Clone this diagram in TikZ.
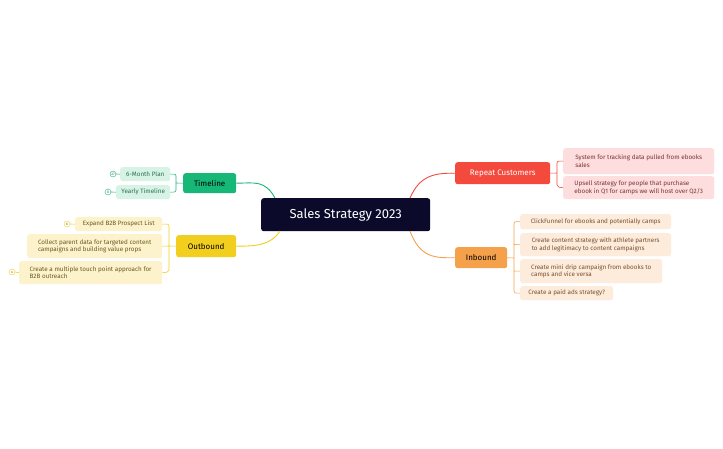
\documentclass[tikz,border=0pt]{standalone}
\usepackage{fontspec}
\setmainfont{Fira Sans}
\begin{document}
\begin{tikzpicture}[x=1pt,y=-1pt,
 base/.style={rounded corners=2.5pt,anchor=north west,inner sep=0pt,inner xsep=3pt,align=left,font=\fontsize{6.3}{7.4}\selectfont},
 tl/.style={base,fill=green!12!white,fill=ltgreen,text=dkgreen},
 ob/.style={base,fill=ltyellow,text=dkyellow},
 rc/.style={base,fill=ltred,text=dkred},
 ib/.style={base,fill=ltorange,text=dkorange},
 main/.style={rounded corners=2.5pt,anchor=north west,inner sep=0pt,align=center,font=\fontsize{8}{9}\selectfont},
 badge/.style={circle,draw,inner sep=0pt,minimum size=6pt,font=\fontsize{3.5}{4}\selectfont},
 con/.style={line width=0.9pt},
 br/.style={line width=0.6pt,rounded corners=2pt}]
\definecolor{navy}{HTML}{0B0A2A}
\definecolor{grn}{HTML}{17B877}\definecolor{ltgreen}{HTML}{D6F3E6}\definecolor{dkgreen}{HTML}{2E6E55}
\definecolor{yel}{HTML}{F2CF1F}\definecolor{ltyellow}{HTML}{FCF2CC}\definecolor{dkyellow}{HTML}{6B5A1E}
\definecolor{red1}{HTML}{F44A3E}\definecolor{ltred}{HTML}{FDDDDD}\definecolor{dkred}{HTML}{7A3535}
\definecolor{org}{HTML}{F5A04A}\definecolor{ltorange}{HTML}{FDEBDB}\definecolor{dkorange}{HTML}{7A5030}
\useasboundingbox[fill=white] (0,0) rectangle (723,448);
% central
\node[main,fill=navy,text=white,minimum width=169pt,minimum height=33pt,font=\fontsize{13}{15}\selectfont] (c) at (261,198) {Sales Strategy 2023};
% branches
\node[main,fill=grn,text=black,minimum width=53pt,minimum height=20pt] (tl) at (183,173) {Timeline};
\node[main,fill=yel,text=black,minimum width=60pt,minimum height=22pt] (ob) at (176,235) {Outbound};
\node[main,fill=red1,text=white,minimum width=95pt,minimum height=22pt] (rc) at (455,162) {Repeat Customers};
\node[main,fill=org,text=black,minimum width=52pt,minimum height=21pt] (ib) at (455,247) {Inbound};
\draw[con,grn] (275,198) .. controls (265,180) and (255,183) .. (tl.east);
\draw[con,yel] (280,231) .. controls (270,246) and (255,246) .. (ob.east);
\draw[con,red1] (410,198) .. controls (420,175) and (435,173) .. (rc.west);
\draw[con,org] (410,231) .. controls (420,258) and (435,258) .. (ib.west);
% timeline children
\node[tl,minimum width=50pt,minimum height=14pt] (t1) at (120,167) {6-Month Plan};
\node[tl,minimum width=54pt,minimum height=14pt] (t2) at (116,185) {Yearly Timeline};
\node[badge,grn,text=dkgreen] (b1) at (113,174) {27};
\node[badge,grn,text=dkgreen] (b2) at (108,192) {8};
\draw[br,grn] (b1.east) -- (t1.west); \draw[br,grn] (b2.east) -- (t2.west);
\draw[br,grn] (tl.west) -- (176,183);
\draw[br,grn] (t1.east) -- (176,174) -- (176,192) -- (t2.east);
% outbound children
\node[ob,minimum width=87pt,minimum height=14pt] (o1) at (75,217) {Expand B2B Prospect List};
\node[ob,minimum width=135pt,minimum height=24pt] (o2) at (27,234) {Collect parent data for targeted content\\campaigns and building value props};
\node[ob,minimum width=143pt,minimum height=23pt] (o3) at (19,261) {Create a multiple touch point approach for\\B2B outreach};
\node[badge,yel,text=dkyellow] (b3) at (67,224) {6};
\node[badge,yel,text=dkyellow] (b4) at (12,272) {4};
\draw[br,yel] (b3.east) -- (o1.west); \draw[br,yel] (b4.east) -- (o3.west);
\draw[br,yel] (ob.west) -- (169,246);
\draw[br,yel] (o1.east) -- (169,224) -- (169,272) -- (o3.east);
\draw[br,yel] (o2.east) -- (169,246);
% repeat children
\node[rc,minimum width=151pt,minimum height=26pt] (r1) at (563,148) {System for tracking data pulled from ebooks\\sales};
\node[rc,minimum width=151pt,minimum height=23pt] (r2) at (563,176) {Upsell strategy for people that purchase\\ebook in Q1 for camps we will host over Q2/3};
\draw[br,red1] (rc.east) -- (557,173);
\draw[br,red1] (r1.west) -- (557,161) -- (557,187) -- (r2.west);
% inbound children
\node[ib,minimum width=151pt,minimum height=15pt] (i1) at (520,214) {ClickFunnel for ebooks and potentially camps};
\node[ib,minimum width=151pt,minimum height=23pt] (i2) at (520,233) {Create content strategy with athlete partners\\to add legitimacy to content campaigns};
\node[ib,minimum width=142pt,minimum height=24pt] (i3) at (520,259) {Create mini drip campaign from ebooks to\\camps and vice versa};
\node[ib,minimum width=93pt,minimum height=14pt] (i4) at (520,286) {Create a paid ads strategy?};
\draw[br,org] (ib.east) -- (514,258);
\draw[br,org] (i1.west) -- (514,221.5) -- (514,293) -- (i4.west);
\draw[br,org] (i2.west) -- (514,244.5); \draw[br,org] (i3.west) -- (514,271);
\end{tikzpicture}
\end{document}
